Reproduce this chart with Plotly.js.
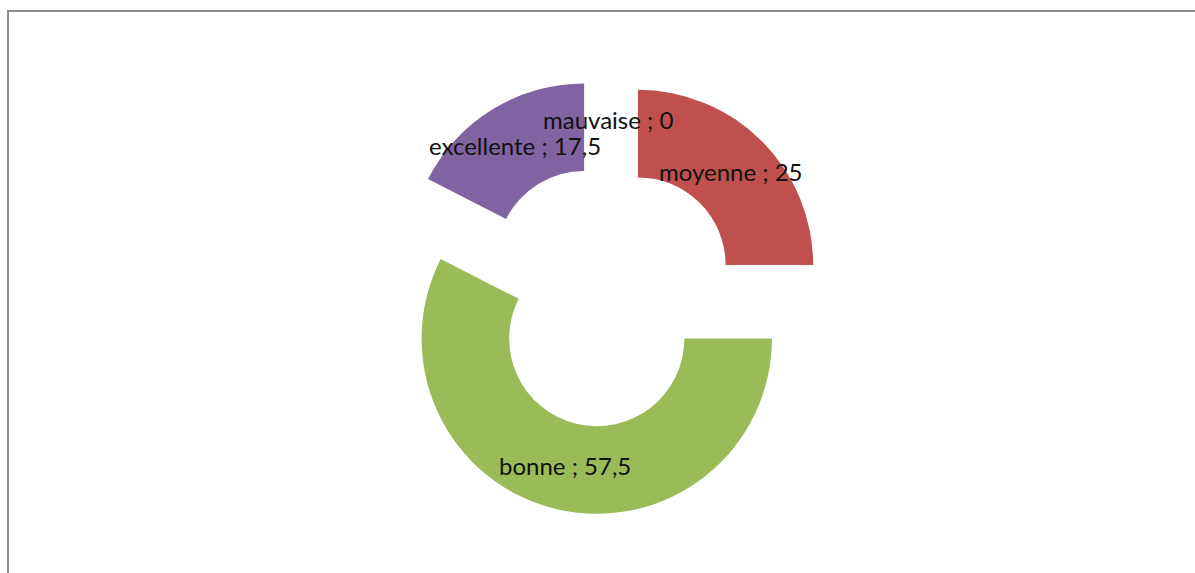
<!DOCTYPE html>
<html>
<head>
<meta charset="utf-8">
<script src="https://cdn.plot.ly/plotly-3.0.1.min.js"></script>
<style>html,body{margin:0;padding:0;background:#fff;}#chart{width:1195px;height:573px;}</style>
</head>
<body>
<div id="chart"></div>
<script>
var categories = ["mauvaise", "moyenne", "bonne", "excellente"];
var values = [0, 25, 57.5, 17.5];
var colors = ["#4F81BD", "#C0504D", "#9BBB59", "#8064A2"];
// label anchor positions (pixels) for each category, Excel-style
var labelX = [608, 731, 565, 515];
var labelY = [119, 171, 465, 145];

var W = 1195, H = 573;
function fmt(v){ return String(v).replace('.', ','); }

var trace = {
  type: 'pie',
  labels: categories,
  values: values,
  sort: false,
  direction: 'clockwise',
  rotation: 0,
  hole: 0.5,
  pull: [0.25, 0.25, 0.25, 0.25],
  marker: {colors: colors, line: {width: 0}},
  textinfo: 'none',
  hoverinfo: 'label+value',
  showlegend: false,
  domain: {x: [388/W, 826/W], y: [(H-515)/H, (H-77)/H]}
};

var annotations = categories.map(function(c, i){
  return {
    xref: 'paper', yref: 'paper',
    x: labelX[i]/W, y: 1 - labelY[i]/H,
    xanchor: 'center', yanchor: 'middle',
    text: c + ' ; ' + fmt(values[i]),
    showarrow: false,
    font: {family: 'Lato, "Open Sans", sans-serif', size: 24, color: '#111111'}
  };
});

var layout = {
  width: W, height: H,
  margin: {l: 0, r: 0, t: 0, b: 0},
  paper_bgcolor: '#ffffff',
  showlegend: false,
  annotations: annotations,
  shapes: [{
    type: 'rect', xref: 'paper', yref: 'paper',
    x0: 8/W, x1: 1.02, y0: -0.05, y1: 1 - 11/H,
    line: {color: '#8c8c8c', width: 2}, fillcolor: 'rgba(0,0,0,0)', layer: 'below'
  }]
};

Plotly.newPlot('chart', [trace], layout, {displayModeBar: false, staticPlot: true});
</script>
</body>
</html>
